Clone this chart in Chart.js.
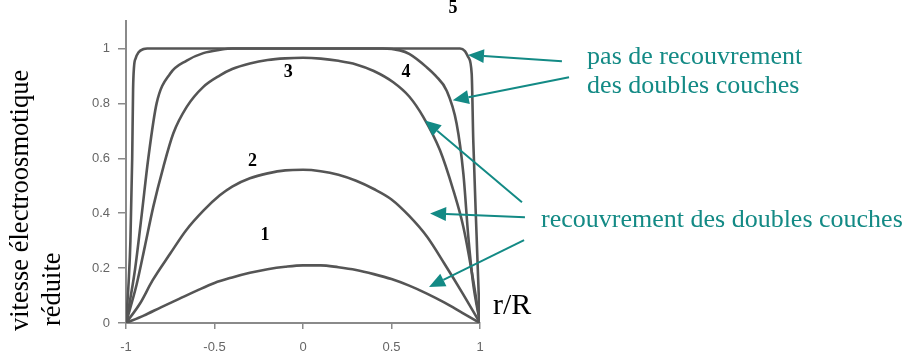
<!DOCTYPE html>
<html>
<head>
<meta charset="utf-8">
<script src="https://cdn.jsdelivr.net/npm/chart.js@4"></script>
<style>
  html, body { margin: 0; padding: 0; background: #fff; }
  canvas { display: block; }
</style>
</head>
<body>
<canvas id="chart" width="904" height="351"></canvas>
<script>
// tick values
const ticksX = [-1, -0.5, 0, 0.5, 1];
const ticksY = [0, 0.2, 0.4, 0.6, 0.8, 1];

// curve 1 (strong overlap)
const c1x = [-1, -0.9, -0.8, -0.7, -0.6, -0.5, -0.4, -0.3, -0.2, -0.1, 0, 0.1, 0.2, 0.3, 0.4, 0.5, 0.6, 0.7, 0.8, 0.9, 1];
const c1y = [0, 0.027, 0.058, 0.088, 0.118, 0.146, 0.166, 0.183, 0.196, 0.205, 0.21, 0.21, 0.203, 0.193, 0.178, 0.16, 0.136, 0.107, 0.074, 0.037, 0];

// curve 2
const c2x = [-1, -0.92, -0.85, -0.75, -0.66, -0.56, -0.47, -0.4, -0.3, -0.2, -0.1, 0, 0.1, 0.2, 0.3, 0.4, 0.5, 0.6, 0.7, 0.8, 0.9, 1];
const c2y = [0, 0.072, 0.155, 0.253, 0.338, 0.411, 0.465, 0.497, 0.527, 0.545, 0.556, 0.558, 0.553, 0.54, 0.518, 0.488, 0.45, 0.39, 0.315, 0.215, 0.11, 0];

// curve 3
const c3x = [-1, -0.94, -0.893, -0.846, -0.789, -0.733, -0.657, -0.563, -0.469, -0.4, -0.3, -0.2, -0.1, 0, 0.1, 0.2, 0.3, 0.4, 0.51, 0.6, 0.68, 0.774, 0.849, 0.906, 0.95, 1];
const c3y = [0, 0.14, 0.28, 0.423, 0.568, 0.69, 0.787, 0.86, 0.902, 0.925, 0.945, 0.958, 0.964, 0.966, 0.963, 0.955, 0.942, 0.918, 0.877, 0.825, 0.75, 0.629, 0.484, 0.35, 0.2, 0];

// curve 4
const c4x = [-1, -0.949, -0.911, -0.874, -0.827, -0.751, -0.657, -0.563, -0.469, -0.4, 0, 0.45, 0.548, 0.6, 0.698, 0.75, 0.811, 0.868, 0.906, 0.934, 0.96, 1];
const c4y = [0, 0.195, 0.396, 0.6, 0.8, 0.908, 0.956, 0.983, 0.995, 1, 1, 1, 0.993, 0.98, 0.932, 0.9, 0.847, 0.726, 0.544, 0.314, 0.15, 0];

// curve 5 (no overlap)
const c5x = [-1, -0.985, -0.975, -0.965, -0.96, -0.955, -0.945, -0.93, -0.9, -0.88, 0, 0.887, 0.915, 0.934, 0.953, 0.962, 0.981, 0.993, 1];
const c5y = [0, 0.15, 0.3, 0.6, 0.85, 0.93, 0.965, 0.985, 0.998, 1, 1, 1, 0.99, 0.968, 0.908, 0.665, 0.314, 0.1, 0];

const curveX = [c1x, c2x, c3x, c4x, c5x];
const curveY = [c1y, c2y, c3y, c4y, c5y];

const TEAL = '#138a85';
const GREY = '#555';

// curve numbers, in data units
const numLabels = [
  { t: '1', x: -0.215, y: 0.32 },
  { t: '2', x: -0.286, y: 0.587 },
  { t: '3', x: -0.083, y: 0.914 },
  { t: '4', x: 0.582, y: 0.914 },
  { t: '5', x: 0.847, y: 1.145 }
];

// arrows, tail -> tip, data units
const arrows = [
  [1.463, 0.953, 0.932, 0.976],
  [1.503, 0.895, 0.846, 0.811],
  [1.237, 0.44, 0.689, 0.738],
  [1.254, 0.385, 0.718, 0.399],
  [1.249, 0.302, 0.712, 0.131]
];

const notes = [
  { t: 'pas de recouvrement', x: 1.605, y: 0.942 },
  { t: 'des doubles couches', x: 1.605, y: 0.836 },
  { t: 'recouvrement des doubles couches', x: 1.345, y: 0.349 }
];

const annotate = {
  id: 'annotate',
  afterDraw(chart) {
    const ctx = chart.ctx;
    const sx = chart.scales.x, sy = chart.scales.y;
    const px = v => sx.getPixelForValue(v);
    const py = v => sy.getPixelForValue(v);
    ctx.save();

    ctx.fillStyle = '#000';
    ctx.font = 'bold 18px "Liberation Serif", "Times New Roman", serif';
    ctx.textAlign = 'center';
    ctx.textBaseline = 'middle';
    numLabels.forEach(l => ctx.fillText(l.t, px(l.x), py(l.y)));

    ctx.strokeStyle = TEAL;
    ctx.fillStyle = TEAL;
    ctx.lineWidth = 2;
    arrows.forEach(a => {
      const x0 = px(a[0]), y0 = py(a[1]), x1 = px(a[2]), y1 = py(a[3]);
      const ang = Math.atan2(y1 - y0, x1 - x0);
      const L = 16, W = 7;
      const bx = x1 - L * Math.cos(ang), by = y1 - L * Math.sin(ang);
      ctx.beginPath();
      ctx.moveTo(x0, y0);
      ctx.lineTo(bx, by);
      ctx.stroke();
      ctx.beginPath();
      ctx.moveTo(x1, y1);
      ctx.lineTo(bx + W * Math.sin(ang), by - W * Math.cos(ang));
      ctx.lineTo(bx - W * Math.sin(ang), by + W * Math.cos(ang));
      ctx.closePath();
      ctx.fill();
    });

    ctx.font = '26px "Liberation Serif", "Times New Roman", serif';
    ctx.textAlign = 'left';
    ctx.textBaseline = 'alphabetic';
    notes.forEach(n => ctx.fillText(n.t, px(n.x), py(n.y)));

    ctx.fillStyle = '#000';
    ctx.font = '30px "Liberation Serif", "Times New Roman", serif';
    ctx.fillText('r/R', px(1.073), py(0.033));

    // y axis title, two rotated lines
    ctx.font = '26.5px "Liberation Serif", "Times New Roman", serif';
    ctx.save();
    ctx.translate(28, 331);
    ctx.rotate(-Math.PI / 2);
    ctx.fillText('vitesse électroosmotique', 0, 0);
    ctx.restore();
    ctx.save();
    ctx.translate(60, 326);
    ctx.rotate(-Math.PI / 2);
    ctx.fillText('réduite', 0, 0);
    ctx.restore();

    ctx.restore();
  }
};

const datasets = curveX.map((xs, i) => ({
  data: xs.map((x, j) => ({ x: x, y: curveY[i][j] })),
  borderColor: GREY,
  borderWidth: 2.6,
  pointRadius: 0,
  fill: false,
  cubicInterpolationMode: 'monotone'
}));

new Chart(document.getElementById('chart'), {
  type: 'line',
  data: { datasets: datasets },
  options: {
    responsive: false,
    animation: false,
    devicePixelRatio: 1,
    layout: { padding: { left: 0, right: 424, top: 21, bottom: 0 } },
    plugins: { legend: { display: false }, tooltip: { enabled: false } },
    scales: {
      x: {
        type: 'linear',
        min: -1,
        max: 1,
        afterBuildTicks: s => { s.ticks = ticksX.map(v => ({ value: v })); },
        afterFit: s => { s.height = 28; },
        grid: { drawOnChartArea: false, drawTicks: true, tickLength: 6, color: '#8a8a8a', lineWidth: 1.5 },
        border: { display: true, color: '#8a8a8a', width: 2 },
        ticks: {
          padding: 11,
          color: '#666',
          font: { family: '"Liberation Sans", Arial, sans-serif', size: 13 },
          callback: v => String(v)
        }
      },
      y: {
        min: 0,
        max: 1.1,
        afterBuildTicks: s => { s.ticks = ticksY.map(v => ({ value: v })); },
        afterFit: s => { s.width = 126; },
        grid: { drawOnChartArea: false, drawTicks: true, tickLength: 8, color: '#8a8a8a', lineWidth: 1.5 },
        border: { display: true, color: '#8a8a8a', width: 2 },
        ticks: {
          padding: 8,
          color: '#666',
          font: { family: '"Liberation Sans", Arial, sans-serif', size: 13 },
          callback: v => String(v)
        }
      }
    }
  },
  plugins: [annotate]
});
</script>
</body>
</html>
